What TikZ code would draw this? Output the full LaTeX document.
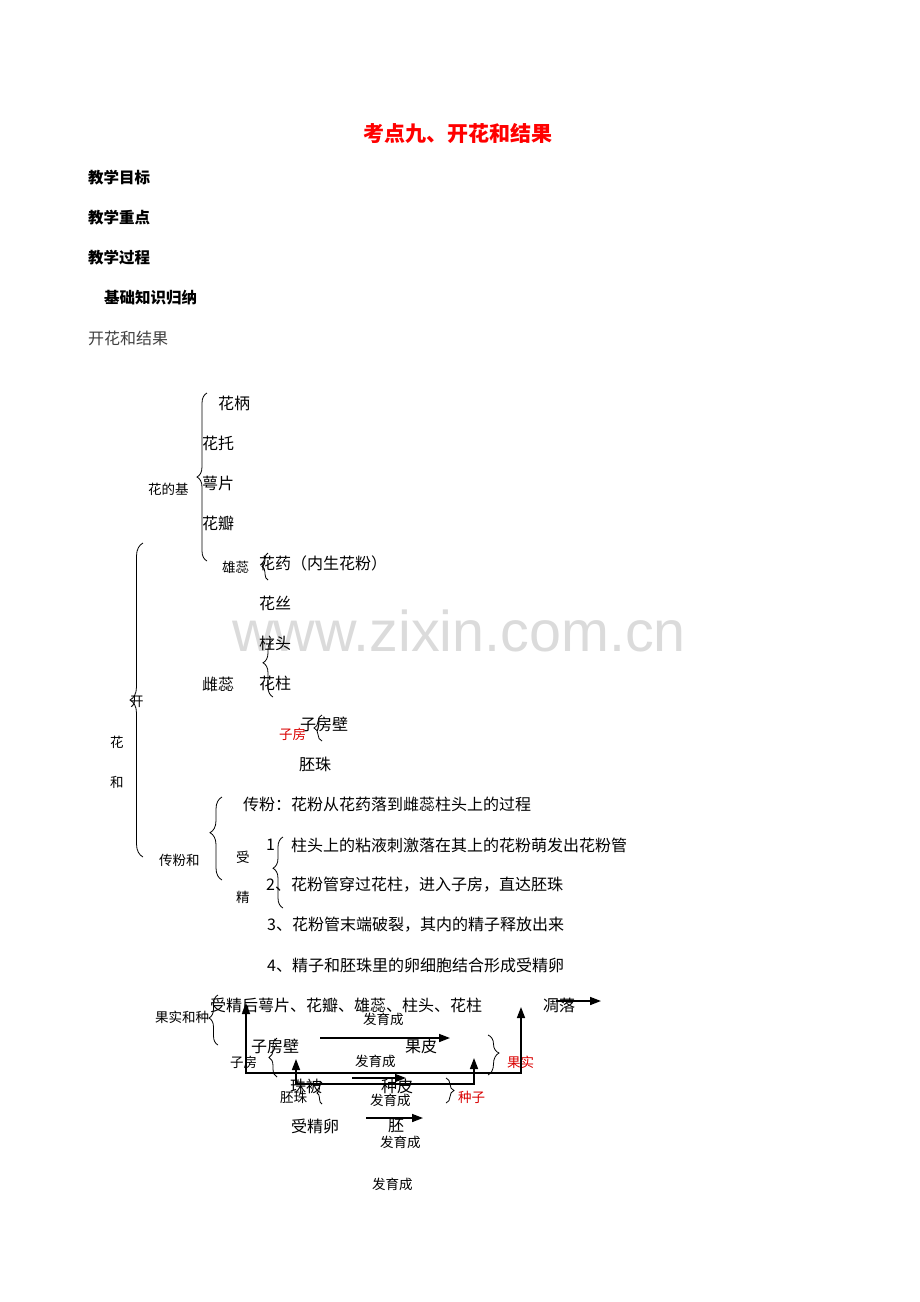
\documentclass[tikz,border=0pt]{standalone}
\usepackage{fontspec}
\setmainfont{Noto Sans CJK SC}
\newfontfamily\markfont{Liberation Sans}
\usepackage{xcolor}
\colorlet{colorTitle}{red}
\colorlet{colorPart}{red!85!black}
\colorlet{colorMark}{black!14}
\colorlet{colorSub}{black!75}
\usetikzlibrary{arrows.meta, positioning, decorations.pathreplacing}
\tikzset{
  txt/.style={inner sep=0pt, anchor=west, font=\fontsize{16}{16}\selectfont},
  sml/.style={inner sep=0pt, anchor=west, font=\fontsize{13.5}{14}\selectfont},
  head/.style={inner sep=0pt, anchor=west, font=\fontsize{15.5}{16}\selectfont\bfseries},
  brc/.style={decorate, decoration={brace, amplitude=#1}, line width=0.8pt},
  brc/.default=6pt,
  devarrow/.style={-{Triangle[length=11pt,width=8pt]}, line width=1.6pt},
  devarrows/.style={{Triangle[length=11pt,width=8pt]}-{Triangle[length=11pt,width=8pt]}, line width=1.6pt},
}

\begin{document}
\begin{tikzpicture}[x=1pt, y=-1pt]
\useasboundingbox (0,0) rectangle (920,1302);
% watermark
\node[inner sep=0pt, anchor=base west, colorMark, font=\markfont\fontsize{57.5}{58}\selectfont] (mark) at (232,651) {www.zixin.com.cn};

% headings
\node[head, colorTitle, font=\fontsize{21}{21}\selectfont\bfseries] (title) at (363,134) {考点九、开花和结果};
\node[head] (h1) at (88,178) {教学目标};
\node[head] (h2) at (88,218) {教学重点};
\node[head] (h3) at (88,258) {教学过程};
\node[head] (h4) at (104,298) {基础知识归纳};
\node[txt, colorSub] (topic) at (88,338) {开花和结果};

% flower structure
\node[sml] (jiben) at (148,489) {花的基};
\node[txt] (bing) at (218,403) {花柄};
\node[txt] (tuo) at (202,443) {花托};
\node[txt] (e) at (202,483) {萼片};
\node[txt] (ban) at (202,523) {花瓣};
\draw[brc=10pt] (207,561) -- (207,393);
\node[sml] (xiong) at (222,567) {雄蕊};
\node[txt] (yao) at (259,563) {花药（内生花粉）};
\draw[brc=6pt] (268,580) -- (268,553);
\node[txt] (si) at (259,603) {花丝};
\node[txt] (tou) at (259,643) {柱头};
\node[txt] (zhu) at (259,683) {花柱};
\node[txt] (ci) at (202,684) {雌蕊};
\draw[brc=10pt, decoration={aspect=0.6}] (273,697) -- (273,640);
\node[txt] (bi) at (300,724) {子房壁};
\node[sml, colorPart] (fang) at (279,734) {子房};
\draw[brc=8pt] (322,741) -- (322,715);
\node[txt] (zhuzi) at (299,764) {胚珠};

% big brace
\draw[brc=13pt] (143,857) -- (143,543);
\node[sml] (kai) at (130,702) {开};
\node[sml] (hua) at (110,742) {花};
\node[sml] (he) at (110,782) {和};

% pollination and fertilization
\node[sml] (chuanhe) at (159,860) {传粉和};
\draw[brc=12pt, decoration={aspect=0.57}] (222,880) -- (222,797);
\node[txt] (chuan) at (243,804) {传粉：花粉从花药落到雌蕊柱头上的过程};
\node[sml] (shou) at (236,857) {受};
\node[sml] (jing) at (236,897) {精};
\node[txt] (n1) at (266,845) {1};
\node[txt] (s1) at (291,845) {柱头上的粘液刺激落在其上的花粉萌发出花粉管};
\node[txt] (n2) at (266,885) {2、};
\node[txt] (s2) at (291,885) {花粉管穿过花柱，进入子房，直达胚珠};
\draw[brc=10pt, decoration={aspect=0.56}] (283,908) -- (283,837);
\node[txt] (s3) at (267,925) {3、花粉管末端破裂，其内的精子释放出来};
\node[txt] (s4) at (267,965) {4、精子和胚珠里的卵细胞结合形成受精卵};

% fruit and seed
\node[sml] (guohe) at (155,1017) {果实和种};
\draw[brc=9pt, decoration={aspect=0.54}] (218,1045) -- (218,995);
\node[txt] (hou) at (210,1005) {受精后萼片、花瓣、雄蕊、柱头、花柱};
\node[txt] (diao) at (543,1005) {凋落};
\coordinate (d1) at (556,1001);
\coordinate (d2) at (601,1001);
\draw[devarrow] (d1) -- (d2);
\node[sml] (fa1) at (363,1019) {发育成};
\coordinate (p1) at (320,1038);
\coordinate (p2) at (450,1038);
\draw[devarrow] (p1) -- (p2);
\node[txt] (bi2) at (251,1046) {子房壁};
\node[txt] (pi) at (405,1046) {果皮};
\node[sml] (fa2) at (355,1061) {发育成};
\node[sml] (fang2) at (230,1062) {子房};
\draw[brc=8pt] (277,1077) -- (277,1038);
\draw[brc=11pt, decoration={aspect=0.45}] (488,1035) -- (488,1075);
\node[sml, colorPart] (guo) at (507,1062) {果实};
\coordinate (a1) at (246,1003);
\coordinate (a2) at (246,1073);
\coordinate (a3) at (521,1073);
\coordinate (a4) at (521,1007);
\draw[devarrows] (a1) -- (a2) -- (a3) -- (a4);
\coordinate (b1) at (296,1059);
\coordinate (b2) at (296,1084);
\coordinate (b3) at (474,1084);
\coordinate (b4) at (474,1058);
\draw[devarrows] (b1) -- (b2) -- (b3) -- (b4);
\coordinate (z1) at (352,1078);
\coordinate (z2) at (406,1078);
\draw[devarrow] (z1) -- (z2);
\node[txt] (zb) at (290,1086) {珠被};
\node[txt] (zp) at (381,1086) {种皮};
\node[sml] (zhuzi2) at (280,1097) {胚珠};
\draw[brc=5pt] (322,1104) -- (322,1082);
\node[sml] (fa3) at (370,1100) {发育成};
\draw[brc=8pt] (446,1078) -- (446,1103);
\node[sml, colorPart] (zi) at (458,1097) {种子};
\node[txt] (shoujing) at (291,1126) {受精卵};
\coordinate (e1) at (366,1118);
\coordinate (e2) at (423,1118);
\draw[devarrow] (e1) -- (e2);
\node[txt] (pei) at (388,1126) {胚};
\node[sml] (fa4) at (380,1142) {发育成};
\node[sml] (fa5) at (372,1184) {发育成};
\end{tikzpicture}
\end{document}
